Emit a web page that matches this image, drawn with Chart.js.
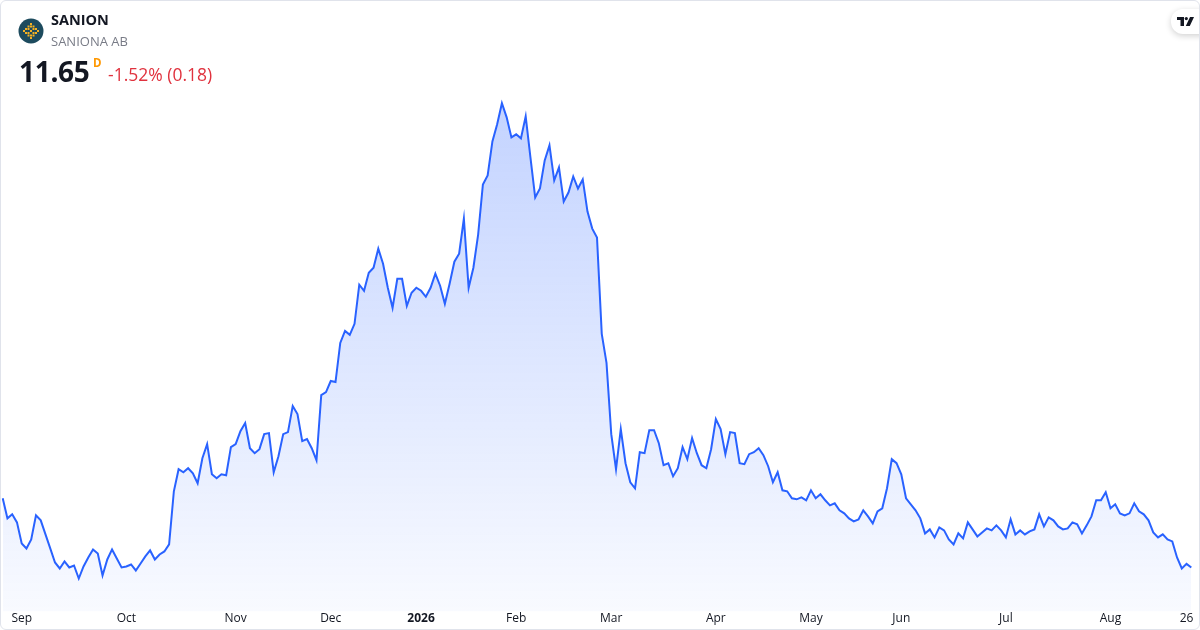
<!DOCTYPE html>
<html>
<head>
<meta charset="utf-8">
<script src="https://cdn.jsdelivr.net/npm/chart.js@4.4.1/dist/chart.umd.min.js"></script>
<style>
  html, body { margin: 0; padding: 0; background: #fff; }
  #wrap {
    position: relative; width: 1200px; height: 630px; box-sizing: border-box;
    border: 1px solid #e0e3eb; border-radius: 6px; overflow: hidden;
    font-family: "Open Sans", sans-serif;
  }
  #chart { position: absolute; left: -1px; top: -1px; }
  .t { position: absolute; line-height: 1; white-space: nowrap; }
  #sym { left: 50px; top: 12px; font-size: 14.5px; font-weight: 700; color: #131722; }
  #name { left: 50px; top: 33.5px; font-size: 13px; color: #787b86; }
  #price { left: 18px; top: 56px; font-size: 28px; font-weight: 700; color: #131722; letter-spacing: -0.3px; }
  #res { left: 92px; top: 55.5px; font-size: 11.5px; font-weight: 700; color: #ff9800; }
  #chg { left: 107px; top: 64.5px; font-size: 17.5px; color: #e0323e; }
  #logo { position: absolute; left: 17px; top: 17px; }
  #tv {
    position: absolute; left: 1170px; top: 8px; width: 44px; height: 25px;
    background: #fff; border-radius: 12px; box-shadow: 0 2px 6px rgba(0,0,0,0.18);
  }
  #tv svg { position: absolute; left: 6px; top: 8px; }
</style>
</head>
<body>
<div id="wrap">
  <canvas id="chart" width="1200" height="634"></canvas>
  <svg id="logo" width="26" height="26" viewBox="0 0 26 26">
    <circle cx="13" cy="13" r="12.5" fill="#1d4b5e"/>
    <g fill="#f4b123">
      <rect x="12" y="5" width="2" height="2"/>
      <rect x="9.5" y="7.5" width="2" height="2"/><rect x="12" y="7.5" width="2" height="2"/><rect x="14.5" y="7.5" width="2" height="2"/>
      <rect x="7" y="10" width="2" height="2"/><rect x="9.5" y="10" width="2" height="2"/><rect x="14.5" y="10" width="2" height="2"/><rect x="17" y="10" width="2" height="2"/>
      <rect x="5" y="12" width="2" height="2"/><rect x="12" y="12" width="2" height="2"/><rect x="19" y="12" width="2" height="2"/>
      <rect x="7" y="14" width="2" height="2"/><rect x="9.5" y="14" width="2" height="2"/><rect x="14.5" y="14" width="2" height="2"/><rect x="17" y="14" width="2" height="2"/>
      <rect x="9.5" y="16.5" width="2" height="2"/><rect x="12" y="16.5" width="2" height="2"/><rect x="14.5" y="16.5" width="2" height="2"/>
      <rect x="12" y="19" width="2" height="2"/>
    </g>
  </svg>
  <div class="t" id="sym">SANION</div>
  <div class="t" id="name">SANIONA AB</div>
  <div class="t" id="price">11.65</div>
  <div class="t" id="res">D</div>
  <div class="t" id="chg">-1.52% (0.18)</div>
  <div id="tv">
    <svg width="17" height="9" viewBox="0 0 17 9">
      <path d="M0 0h7v9H3.5V3H0z" fill="#131722"/>
      <circle cx="9.3" cy="1.6" r="1.6" fill="#131722"/>
      <path d="M13 0h4l-4.2 9H8.8z" fill="#131722"/>
    </svg>
  </div>
</div>
<script>
// daily closes, Sep 2025 - Aug 2026
const closes = [
  15.10, 14.10, 14.30, 13.90, 12.85, 12.60, 13.05, 14.25, 14.00, 13.30,
  12.60, 11.90, 11.60, 11.95, 11.65, 11.75, 11.10, 11.70, 12.15, 12.55,
  12.35, 11.25, 12.05, 12.55, 12.10, 11.65, 11.70, 11.80, 11.50, 11.85,
  12.20, 12.50, 12.05, 12.30, 12.45, 12.80, 15.45, 16.55, 16.40, 16.60,
  16.35, 15.85, 17.10, 17.80, 16.30, 16.10, 16.30, 16.25, 17.65, 17.80,
  18.45, 18.85, 17.60, 17.35, 17.55, 18.30, 18.35, 16.40, 17.20, 18.30,
  18.40, 19.70, 19.30, 17.95, 18.05, 17.60, 17.00, 20.25, 20.40, 20.95,
  20.90, 22.85, 23.45, 23.25, 23.80, 25.75, 25.45, 26.35, 26.60, 27.55,
  26.80, 25.60, 24.60, 26.05, 26.05, 24.70, 25.35, 25.60, 25.45, 25.15,
  25.60, 26.30, 25.70, 24.80, 25.80, 26.90, 27.30, 29.05, 25.60, 26.60,
  28.25, 30.75, 31.20, 32.90, 33.75, 34.80, 34.10, 33.10, 33.25, 33.05,
  34.15, 32.10, 30.10, 30.55, 31.95, 32.70, 30.95, 31.60, 29.90, 30.35,
  31.15, 30.55, 31.00, 29.40, 28.55, 28.10, 23.30, 21.85, 18.30, 16.55,
  18.55, 16.85, 15.90, 15.60, 17.40, 17.35, 18.50, 18.50, 17.85, 16.75,
  16.85, 16.20, 16.60, 17.65, 17.05, 18.10, 17.35, 16.75, 16.60, 17.55,
  19.05, 18.55, 17.30, 18.40, 18.35, 16.85, 16.80, 17.30, 17.40, 17.60,
  17.25, 16.70, 15.90, 16.40, 15.50, 15.45, 15.10, 15.05, 15.15, 15.00,
  15.50, 15.10, 15.30, 15.00, 14.75, 14.85, 14.50, 14.35, 14.10, 13.95,
  14.05, 14.50, 14.20, 13.85, 14.45, 14.60, 15.60, 17.05, 16.85, 16.30,
  15.10, 14.80, 14.50, 14.10, 13.35, 13.55, 13.15, 13.65, 13.50, 13.05,
  12.80, 13.35, 13.10, 13.90, 13.55, 13.20, 13.40, 13.60, 13.50, 13.75,
  13.50, 13.15, 14.05, 13.30, 13.50, 13.30, 13.45, 13.55, 14.30, 13.70,
  14.15, 14.00, 13.70, 13.55, 13.60, 13.90, 13.80, 13.35, 13.75, 14.20,
  15.00, 15.00, 15.40, 14.60, 14.80, 14.35, 14.25, 14.35, 14.85, 14.45,
  14.30, 14.00, 13.40, 13.15, 13.30, 13.05, 12.95, 12.15, 11.60, 11.83,
  11.65
];

// month labels and the bar index they sit on
const tickLabels = ['Sep', 'Oct', 'Nov', 'Dec', '2026', 'Feb', 'Mar', 'Apr', 'May', 'Jun', 'Jul', 'Aug', '26'];
const tickIndex = [4, 26, 49, 69, 88, 108, 128, 150, 170, 189, 211, 233, 249];

const labels = closes.map(() => '');
tickIndex.forEach((idx, k) => { labels[idx] = tickLabels[k]; });

const lineBlue = '#2962ff';

new Chart(document.getElementById('chart'), {
  type: 'line',
  data: {
    labels,
    datasets: [{
      data: closes,
      borderColor: lineBlue,
      borderWidth: 2,
      pointRadius: 0,
      pointHoverRadius: 0,
      tension: 0,
      fill: 'start',
      backgroundColor: (c) => {
        const chart = c.chart;
        const area = chart.chartArea;
        if (!area) return 'rgba(41,98,255,0.1)';
        const top = chart.scales.y.getPixelForValue(Math.max(...closes));
        const g = chart.ctx.createLinearGradient(0, top, 0, area.bottom);
        g.addColorStop(0, 'rgba(41,98,255,0.28)');
        g.addColorStop(1, 'rgba(41,98,255,0.03)');
        return g;
      }
    }]
  },
  options: {
    responsive: false,
    animation: false,
    layout: { autoPadding: false, padding: { left: 2.7, right: 8.7, top: 0, bottom: 8.2 } },
    plugins: { legend: { display: false }, tooltip: { enabled: false } },
    scales: {
      x: {
        grid: { display: false, drawTicks: false },
        border: { display: false },
        ticks: {
          autoSkip: false,
          maxRotation: 0,
          padding: 0,
          color: '#131722',
          font: (c) => ({
            family: '"Open Sans", sans-serif',
            size: 12,
            weight: c.tick && c.tick.label === '2026' ? 'bold' : 'normal'
          })
        }
      },
      y: {
        display: false,
        min: 9.46,
        max: 39.95
      }
    }
  }
});
</script>
</body>
</html>
